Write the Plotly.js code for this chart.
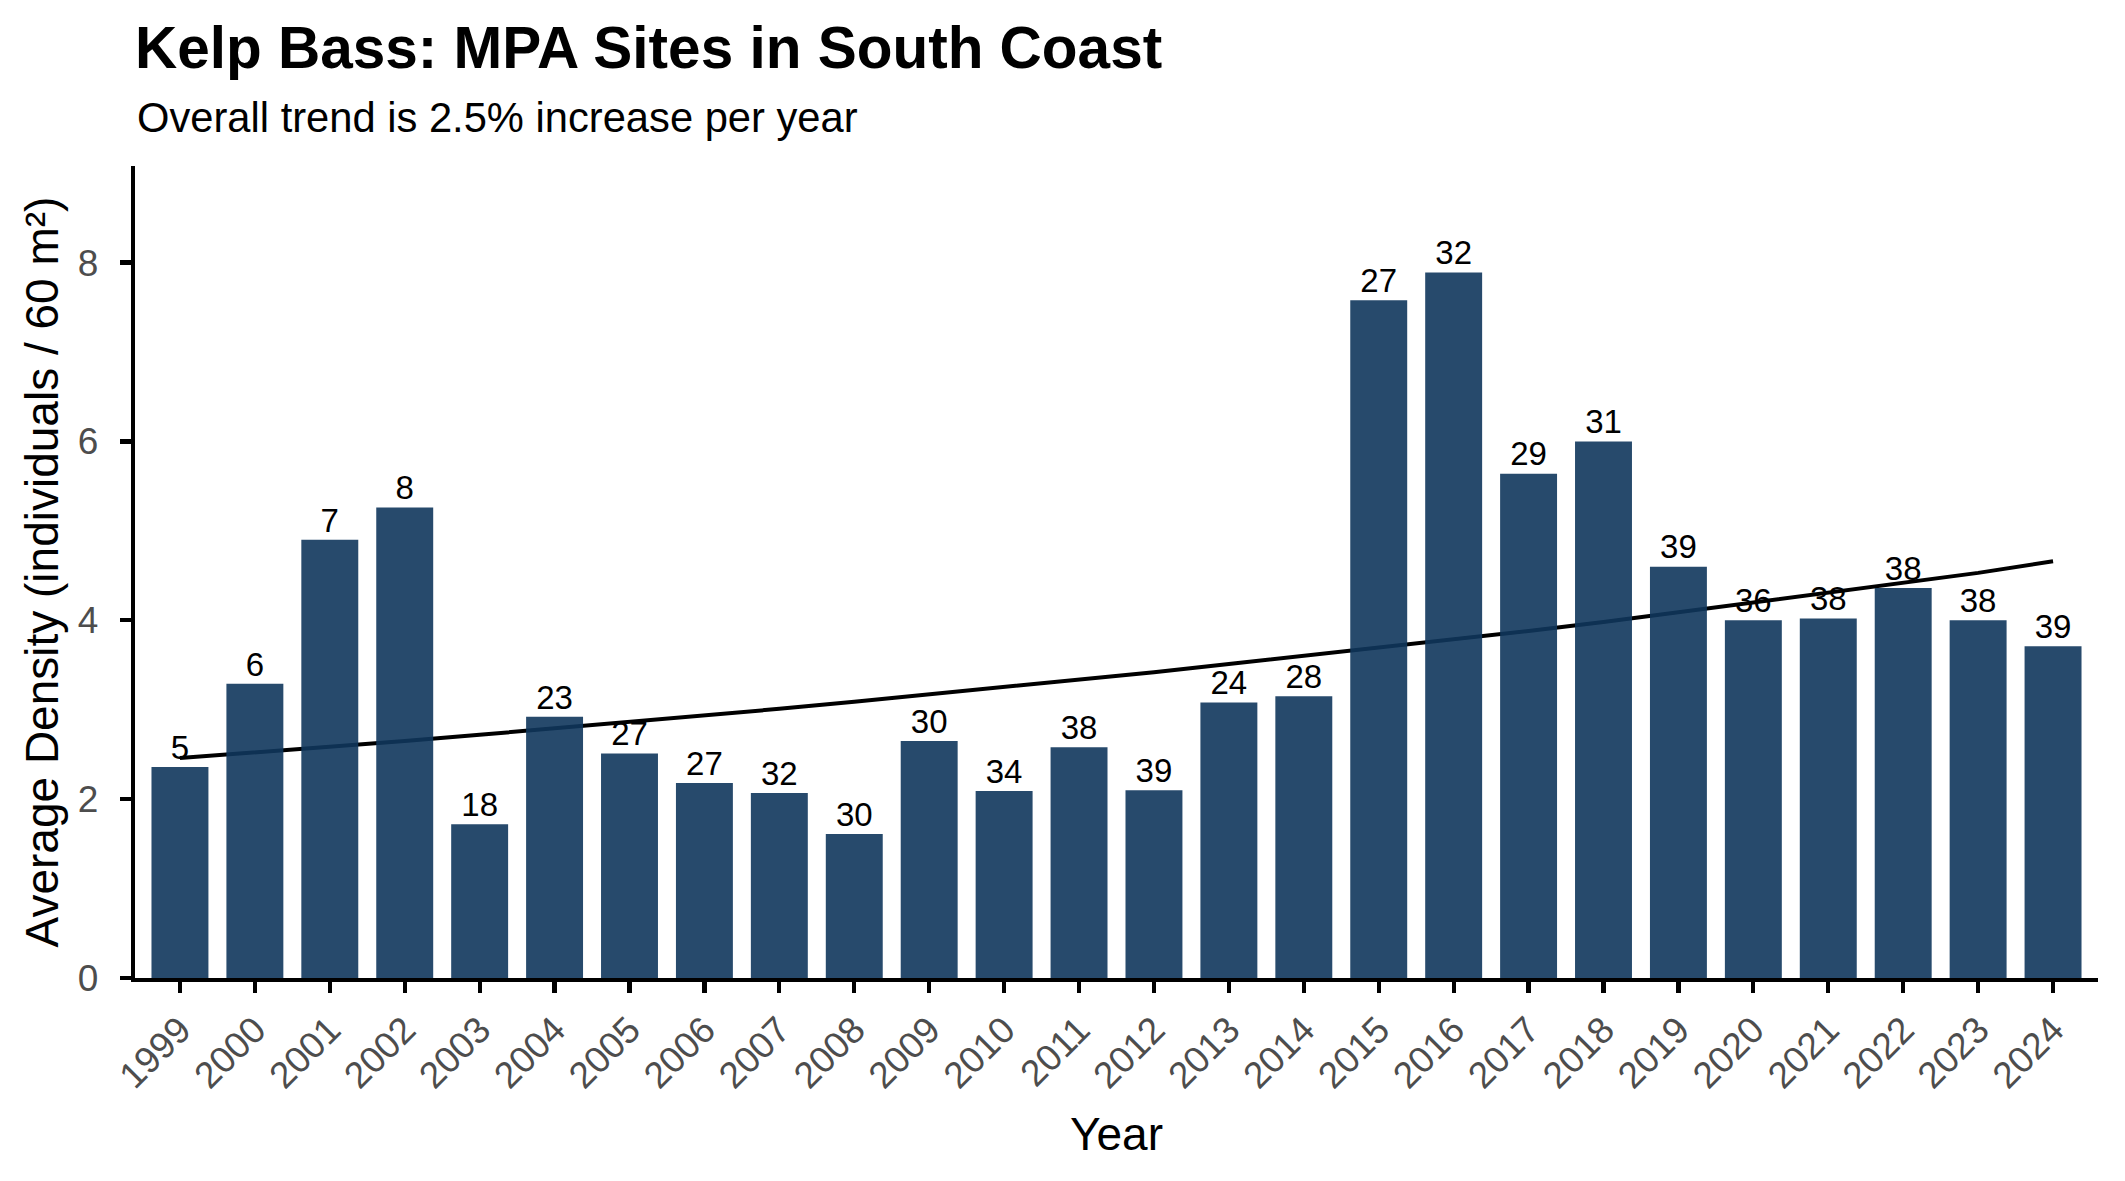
<!DOCTYPE html>
<html>
<head>
<meta charset="utf-8">
<script src="https://cdn.plot.ly/plotly-3.0.1.min.js"></script>
<style>
  html, body { margin: 0; padding: 0; background: #ffffff; }
  #chart { width: 2125px; height: 1181px; }
</style>
</head>
<body>
<div id="chart"></div>
<script>
// ---- Data ----
var years = ["1999","2000","2001","2002","2003","2004","2005","2006","2007","2008","2009","2010","2011",
             "2012","2013","2014","2015","2016","2017","2018","2019","2020","2021","2022","2023","2024"];
var density = [2.36, 3.29, 4.90, 5.26, 1.72, 2.92, 2.51, 2.18, 2.07, 1.61, 2.65, 2.09, 2.58,
               2.10, 3.08, 3.15, 7.58, 7.89, 5.64, 6.00, 4.60, 4.00, 4.02, 4.36, 4.00, 3.71];
var siteCounts = ["5","6","7","8","18","23","27","27","32","30","30","34","38",
                  "39","24","28","27","32","29","31","39","36","38","38","38","39"];
var trend = [2.46, 2.52, 2.59, 2.65, 2.72, 2.79, 2.86, 2.94, 3.01, 3.09, 3.17, 3.25, 3.33,
             3.42, 3.51, 3.60, 3.69, 3.78, 3.88, 3.98, 4.09, 4.19, 4.30, 4.41, 4.53, 4.66];

var titleText = "Kelp Bass: MPA Sites in South Coast";
var subtitleText = "Overall trend is 2.5% increase per year";
var xTitle = "Year";
var yTitle = "Average Density (individuals / 60 m²)";

var FONT = "Liberation Sans, Arial, Helvetica, sans-serif";
var xRange = [-0.6, 25.6];
var yRange = [0, 9.08];

var traces = [
  {
    type: "scatter", mode: "text",
    x: years, y: density, text: siteCounts,
    textposition: "top center",
    textfont: { family: FONT, size: 33, color: "#000000" },
    hoverinfo: "skip", showlegend: false,
    xaxis: "x", yaxis: "y"
  },
  {
    type: "scatter", mode: "lines",
    x: years, y: trend,
    line: { color: "#000000", width: 4 },
    hoverinfo: "skip", showlegend: false,
    xaxis: "x", yaxis: "y"
  },
  {
    type: "bar",
    x: years, y: density,
    width: 0.76,
    marker: { color: "rgba(16,54,92,0.9)", line: { width: 0 } },
    hoverinfo: "skip", showlegend: false,
    xaxis: "x2", yaxis: "y2"
  }
];

var axisCommon = {
  showgrid: false, zeroline: false,
  showline: true, linecolor: "#000000", linewidth: 4.3,
  ticks: "outside", tickcolor: "#000000", tickwidth: 4.3, ticklen: 11,
  tickfont: { family: FONT, size: 37, color: "#4d4d4d" }
};

var layout = {
  width: 2125, height: 1181,
  paper_bgcolor: "#ffffff", plot_bgcolor: "#ffffff",
  margin: { l: 135, r: 27, t: 166, b: 203, pad: 0 },
  showlegend: false,
  title: {
    text: "<b>" + titleText + "</b>",
    font: { family: FONT, size: 58.5, color: "#000000" },
    xref: "paper", x: 0, xanchor: "left",
    yref: "container", y: 1 - 68 / 1181, yanchor: "bottom"
  },
  annotations: [
    {
      text: subtitleText, showarrow: false,
      xref: "paper", x: 0, xanchor: "left",
      yref: "paper", y: (978 - 143) / 812, yanchor: "bottom",
      font: { family: FONT, size: 41.7, color: "#000000" }
    }
  ],
  xaxis: Object.assign({}, axisCommon, {
    type: "category", range: xRange,
    categoryorder: "array", categoryarray: years,
    tickangle: -45,
    title: { text: xTitle, font: { family: FONT, size: 46, color: "#000000" }, standoff: 24 }
  }),
  yaxis: Object.assign({}, axisCommon, {
    range: yRange, tickvals: [0, 2, 4, 6, 8], ticktext: ["0","2","4","6","8"],
    ticklabelstandoff: 14,
    title: { text: yTitle, font: { family: FONT, size: 46, color: "#000000" }, standoff: 6 }
  }),
  xaxis2: {
    type: "category", range: xRange, overlaying: "x",
    categoryorder: "array", categoryarray: years,
    visible: false, showgrid: false, zeroline: false
  },
  yaxis2: {
    range: yRange, overlaying: "y",
    visible: false, showgrid: false, zeroline: false
  }
};

Plotly.newPlot("chart", traces, layout, { displayModeBar: false, staticPlot: true });
</script>
</body>
</html>
